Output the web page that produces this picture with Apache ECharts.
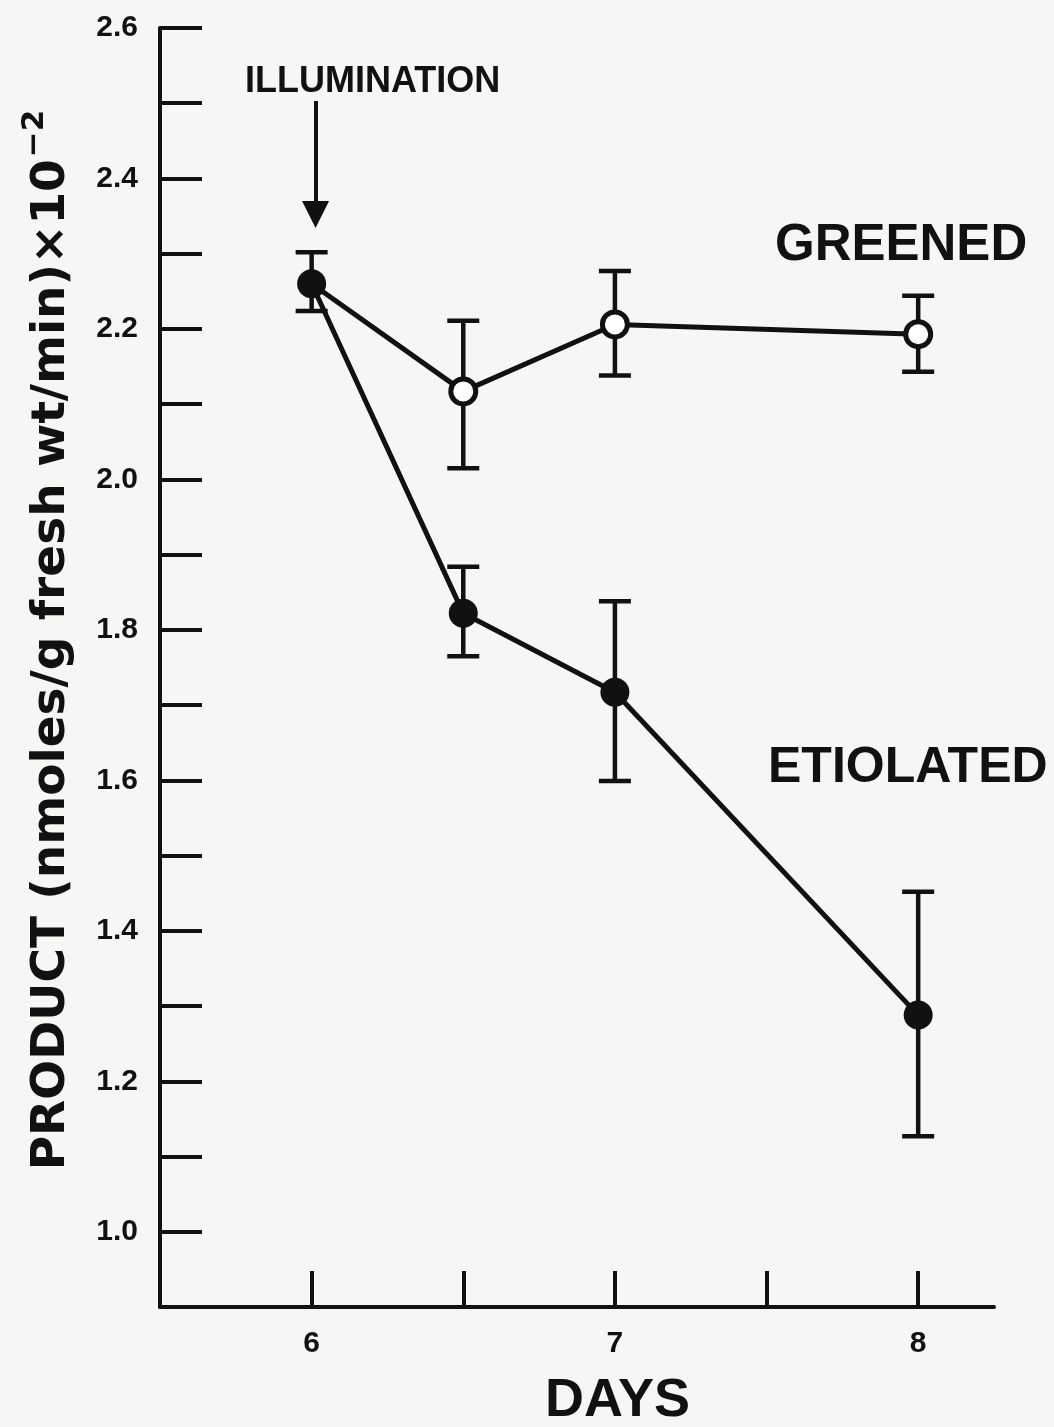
<!DOCTYPE html>
<html>
<head>
<meta charset="utf-8">
<script src="https://cdn.jsdelivr.net/npm/echarts@6/dist/echarts.min.js"></script>
<style>
html,body{margin:0;padding:0;background:#f6f6f4;}
#c{width:1054px;height:1427px;}
</style>
</head>
<body>
<div id="c"></div>
<script>
// ---- data ----
const days = [6, 6.5, 7, 8];
const etiolated = [2.260, 1.822, 1.717, 1.288];
const etiolatedLow = [2.224, 1.765, 1.599, 1.127];
const etiolatedHigh = [2.302, 1.884, 1.838, 1.452];
const greened = [2.260, 2.117, 2.206, 2.193];
const greenedLow = [null, 2.015, 2.138, 2.143];
const greenedHigh = [null, 2.211, 2.277, 2.244];
const xTicks = [6, 6.5, 7, 7.5, 8];
const xLabels = [6, 7, 8];
const yTicks = [1.0, 1.1, 1.2, 1.3, 1.4, 1.5, 1.6, 1.7, 1.8, 1.9, 2.0, 2.1, 2.2, 2.3, 2.4, 2.5, 2.6];
const yLabels = [1.0, 1.2, 1.4, 1.6, 1.8, 2.0, 2.2, 2.4, 2.6];
const arrowFrom = [6.013, 2.503];
const arrowTo = [6.013, 2.352];

const ink = '#111';
const chart = echarts.init(document.getElementById('c'));

function errData(lo, hi) {
  const out = [];
  days.forEach((d, i) => { if (lo[i] != null) out.push([d, lo[i], hi[i]]); });
  return out;
}
function errRender(params, api) {
  const x = api.value(0);
  const lo = api.coord([x, api.value(1)]);
  const hi = api.coord([x, api.value(2)]);
  const w = 16;
  const st = { stroke: ink, lineWidth: 4.5 };
  return {
    type: 'group',
    children: [
      { type: 'line', shape: { x1: lo[0], y1: lo[1], x2: hi[0], y2: hi[1] }, style: st },
      { type: 'line', shape: { x1: lo[0] - w, y1: lo[1], x2: lo[0] + w, y2: lo[1] }, style: st },
      { type: 'line', shape: { x1: hi[0] - w, y1: hi[1], x2: hi[0] + w, y2: hi[1] }, style: st }
    ]
  };
}

const greenedPts = days.map((d, i) => i === 0
  ? { value: [d, greened[i]], symbol: 'none' }
  : [d, greened[i]]);

chart.setOption({
  backgroundColor: '#f6f6f4',
  animation: false,
  grid: { left: 160, right: 60, top: 28, bottom: 120 },
  xAxis: {
    type: 'value', min: 5.5, max: 8.25,
    axisLine: { show: true, lineStyle: { color: ink, width: 4 } },
    axisTick: { show: true, inside: true, length: 36, lineStyle: { color: ink, width: 4 }, customValues: xTicks },
    axisLabel: { show: true, margin: 22, color: ink, fontFamily: 'Liberation Sans', fontWeight: 'bold', fontSize: 30,
      customValues: xLabels, formatter: v => String(v) },
    splitLine: { show: false }
  },
  yAxis: {
    type: 'value', min: 0.9, max: 2.6,
    axisLine: { show: true, lineStyle: { color: ink, width: 4 } },
    axisTick: { show: true, inside: true, length: 42, lineStyle: { color: ink, width: 4 }, customValues: yTicks },
    axisLabel: { show: true, margin: 22, color: ink, fontFamily: 'Liberation Sans', fontWeight: 'bold', fontSize: 30,
      customValues: yLabels, formatter: v => v.toFixed(1) },
    splitLine: { show: false }
  },
  series: [
    {
      type: 'custom', name: 'etiolated-err', renderItem: errRender,
      data: errData(etiolatedLow, etiolatedHigh), encode: { x: 0, y: [1, 2] }, z: 2, silent: true
    },
    {
      type: 'custom', name: 'greened-err', renderItem: errRender,
      data: errData(greenedLow, greenedHigh), encode: { x: 0, y: [1, 2] }, z: 2, silent: true
    },
    {
      type: 'line', name: 'GREENED', data: greenedPts, z: 3,
      symbol: 'circle', symbolSize: 25, showAllSymbol: true,
      lineStyle: { color: ink, width: 5 },
      itemStyle: { color: '#ffffff', borderColor: ink, borderWidth: 5 }
    },
    {
      type: 'line', name: 'ETIOLATED', data: days.map((d, i) => [d, etiolated[i]]), z: 4,
      symbol: 'circle', symbolSize: 29, showAllSymbol: true,
      lineStyle: { color: ink, width: 5 },
      itemStyle: { color: ink, borderWidth: 0 },
      markLine: {
        silent: true, symbol: ['none', 'triangle'], symbolSize: 27,
        label: { show: false },
        lineStyle: { color: ink, width: 4, type: 'solid' },
        data: [[{ coord: arrowFrom }, { coord: arrowTo }]]
      }
    }
  ],
  graphic: [
    { type: 'text', left: 245, top: 64, style: { text: 'ILLUMINATION', fill: ink, font: 'bold 36px "Liberation Sans"' } },
    { type: 'text', left: 775, top: 220, style: { text: 'GREENED', fill: ink, font: 'bold 51px "Liberation Sans"' } },
    { type: 'text', left: 768, top: 743, style: { text: 'ETIOLATED', fill: ink, font: 'bold 50px "Liberation Sans"' } },
    { type: 'text', left: 545, top: 1374, style: { text: 'DAYS', fill: ink, font: 'bold 54px "Liberation Sans"' } },
    {
      type: 'text', x: 52, y: 640, rotation: Math.PI / 2,
      style: {
        text: '{a|PRODUCT (nmoles/g fresh wt/min)×10}{s|−2}',
        align: 'center', verticalAlign: 'middle', fill: ink,
        rich: {
          a: { fontFamily: 'DejaVu Sans', fontWeight: 'bold', fontSize: 47, fill: ink },
          s: { fontFamily: 'DejaVu Sans', fontWeight: 'bold', fontSize: 31, fill: ink, padding: [0, 0, 34, 2] }
        }
      }
    }
  ]
});
</script>
</body>
</html>
